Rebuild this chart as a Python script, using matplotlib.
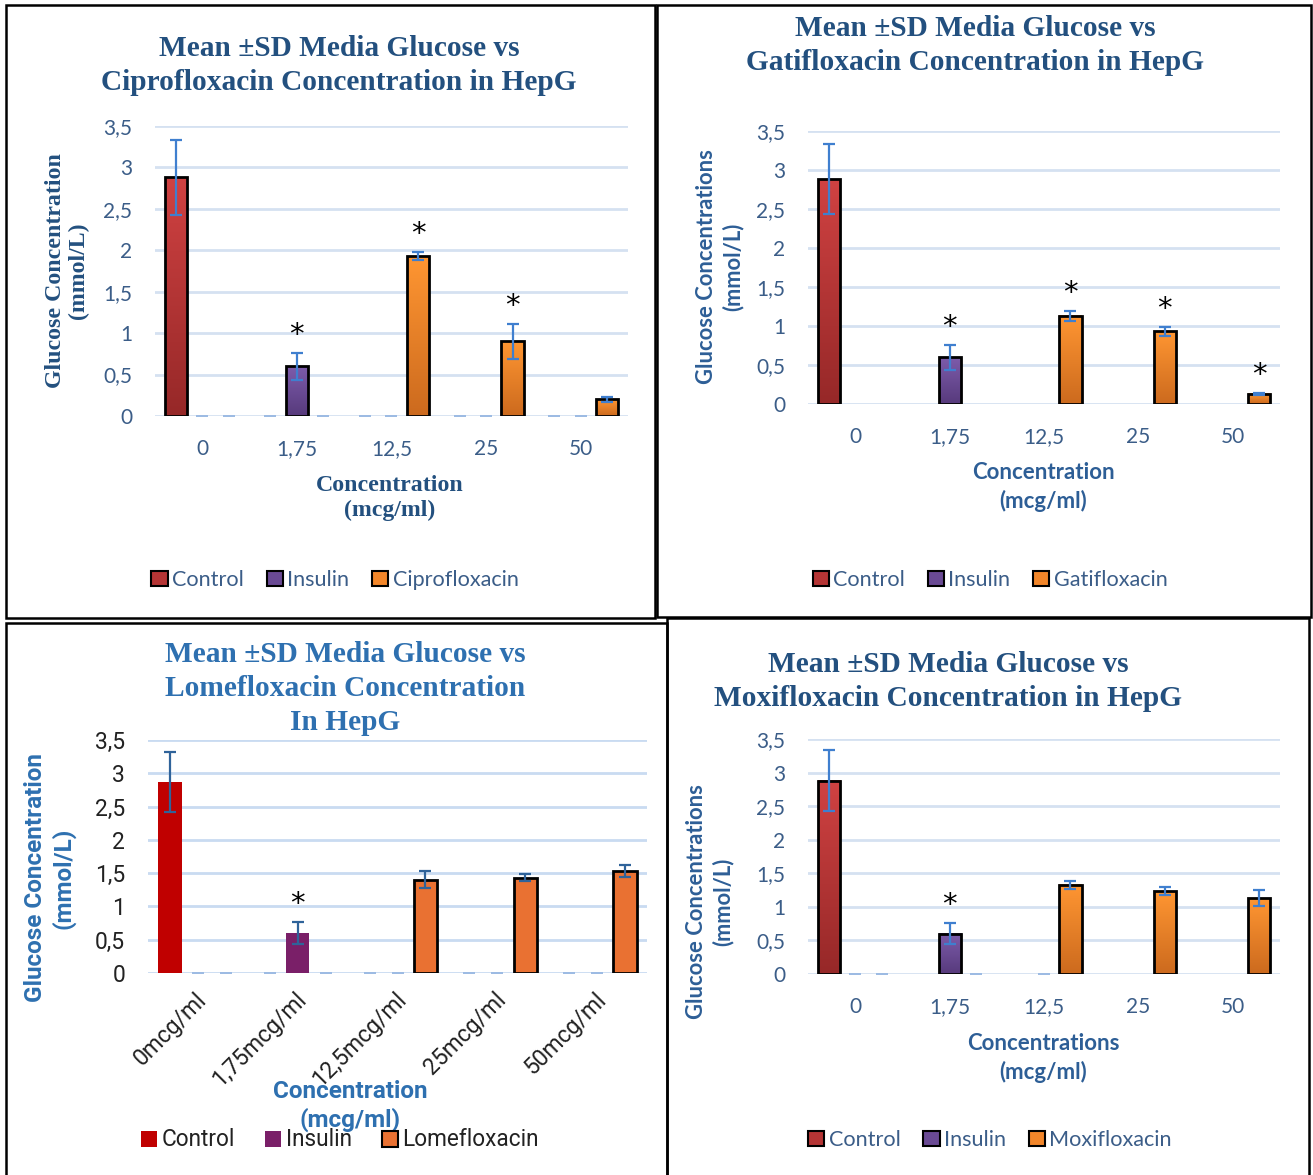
import numpy as np
import matplotlib
matplotlib.use("Agg")
import matplotlib.pyplot as plt
from matplotlib.patches import Patch, Rectangle
from matplotlib.colors import LinearSegmentedColormap

# ---------------- data ----------------
categories = ["0", "1,75", "12,5", "25", "50"]
lome_categories = ["0mcg/ml", "1,75mcg/ml", "12,5mcg/ml", "25mcg/ml", "50mcg/ml"]

# Ciprofloxacin panel
cipro_control = [2.88, 0, 0, 0, 0]
cipro_control_sd = [0.45, 0, 0, 0, 0]
cipro_insulin = [0, 0.60, 0, 0, 0]
cipro_insulin_sd = [0, 0.16, 0, 0, 0]
cipro_drug = [0, 0, 1.93, 0.90, 0.20]
cipro_drug_sd = [0, 0, 0.05, 0.21, 0.035]
cipro_stars = [(1, "Insulin"), (2, "Drug"), (3, "Drug")]

# Gatifloxacin panel
gati_control = [2.88, 0, 0, 0, 0]
gati_control_sd = [0.45, 0, 0, 0, 0]
gati_insulin = [0, 0.60, 0, 0, 0]
gati_insulin_sd = [0, 0.16, 0, 0, 0]
gati_drug = [0, 0, 1.13, 0.93, 0.13]
gati_drug_sd = [0, 0, 0.06, 0.055, 0.01]
gati_stars = [(1, "Insulin"), (2, "Drug"), (3, "Drug"), (4, "Drug")]

# Lomefloxacin panel
lome_control = [2.87, 0, 0, 0, 0]
lome_control_sd = [0.45, 0, 0, 0, 0]
lome_insulin = [0, 0.60, 0, 0, 0]
lome_insulin_sd = [0, 0.16, 0, 0, 0]
lome_drug = [0, 0, 1.40, 1.43, 1.53]
lome_drug_sd = [0, 0, 0.13, 0.055, 0.095]
lome_stars = [(1, "Insulin")]

# Moxifloxacin panel
moxi_control = [2.88, 0, 0, 0, 0]
moxi_control_sd = [0.45, 0, 0, 0, 0]
moxi_insulin = [0, 0.60, 0, 0, 0]
moxi_insulin_sd = [0, 0.155, 0, 0, 0]
moxi_drug = [0, 0, 1.33, 1.23, 1.13]
moxi_drug_sd = [0, 0, 0.06, 0.06, 0.12]
moxi_stars = [(1, "Insulin")]

y_ticks = [0, 0.5, 1, 1.5, 2, 2.5, 3, 3.5]
y_tick_labels = ["0", "0,5", "1", "1,5", "2", "2,5", "3", "3,5"]

# ---------------- styling ----------------
W, H = 1313, 1175
fig = plt.figure(figsize=(W / 100, H / 100), dpi=100)

SERIF = ["Liberation Serif", "DejaVu Serif"]
SANS = ["Lato", "DejaVu Sans"]
SANS2 = ["Roboto", "DejaVu Sans"]

TITLE_DARK = "#23507f"
TITLE_BRIGHT = "#2e70b0"
TICK_BLUE = "#3b5d88"
LABEL_BLUE = "#2d5e96"
GRID = "#d5e1f1"
ERR = "#3f7fcf"
ERR_DARK = "#2f639a"
ZERO_DASH = "#9dbbe3"
TITLE_SIZE = 21.2

grad_control = LinearSegmentedColormap.from_list("c", ["#962828", "#d04242"])
grad_insulin = LinearSegmentedColormap.from_list("i", ["#573a7c", "#7d5cab"])
grad_orange = LinearSegmentedColormap.from_list("o", ["#cc6a1e", "#ff9632"])


def fx(x):
    return x / W


def fy(y):
    return 1 - y / H


def add_axes(x0, x1, ytop, ybot):
    return fig.add_axes([fx(x0), fy(ybot), (x1 - x0) / W, (ybot - ytop) / H])


def panel_box(x0, y0, x1, y1):
    fig.patches.append(Rectangle((fx(x0), fy(y1)), (x1 - x0) / W, (y1 - y0) / H,
                                 transform=fig.transFigure, fill=False,
                                 edgecolor="black", linewidth=1.8, zorder=10))


def base_axes(ax, tick_color, tick_family, tick_size):
    ax.set_xlim(-0.5, 4.5)
    ax.set_ylim(0, 3.5)
    ax.set_yticks(y_ticks)
    ax.set_yticklabels(y_tick_labels, fontfamily=tick_family, fontsize=tick_size, color=tick_color)
    for s in ax.spines.values():
        s.set_visible(False)
    ax.tick_params(axis="both", length=0, pad=16.5)
    ax.grid(axis="y", color=GRID, linewidth=2.0, zorder=0)
    ax.set_axisbelow(True)
    ax.patch.set_alpha(0)


def draw_series(ax, pos, vals, sds, face, cmap, edge, err_color, zero_caps):
    bars = ax.bar(pos, vals, width=0.235, color=face if cmap is None else "none",
                  edgecolor=edge if edge else "none", linewidth=2.0 if edge else 0, zorder=3)
    grad = np.linspace(0, 1, 256).reshape(-1, 1)
    for b in bars:
        h = b.get_height()
        if h <= 0:
            b.set_linewidth(0)
            continue
        if cmap is not None:
            ax.imshow(grad, cmap=cmap, origin="lower", aspect="auto", zorder=2.5,
                      extent=[b.get_x(), b.get_x() + b.get_width(), 0, h])
    vals = np.asarray(vals, float)
    sds = np.asarray(sds, float)
    nz = vals > 0
    pos = np.asarray(pos, float)
    ax.errorbar(pos[nz], vals[nz], yerr=sds[nz], fmt="none", ecolor=err_color,
                elinewidth=1.6, capsize=4.2, capthick=1.6, zorder=4)
    zc = np.array(zero_caps, dtype=bool) & ~nz
    if zc.any():
        ax.errorbar(pos[zc], vals[zc], yerr=sds[zc], fmt="none", ecolor=ZERO_DASH,
                    elinewidth=1.0, capsize=4.2, capthick=1.3, zorder=2)
    return bars


def draw_panel(ax, control, control_sd, insulin, insulin_sd, drug, drug_sd, stars,
               styles, err_color, zero_masks):
    x = np.arange(len(categories))
    off = 0.28
    groups = {
        "Control": (x - off, control, control_sd),
        "Insulin": (x, insulin, insulin_sd),
        "Drug": (x + off, drug, drug_sd),
    }
    for key, (pos, v, s) in groups.items():
        face, cmap, edge = styles[key]
        draw_series(ax, pos, v, s, face, cmap, edge, err_color, zero_masks[key])
    for idx, key in stars:
        pos, v, s = groups[key]
        ax.annotate("*", (pos[idx], v[idx] + s[idx]), xytext=(0, 3), textcoords="offset points",
                    ha="center", va="bottom", fontsize=21, fontfamily="DejaVu Sans", color="black",
                    zorder=6)


def legend(labels, handles, cx, cy, color, family, size, spacing, hsize=0.75):
    lg = fig.legend(handles, labels, loc="center", bbox_to_anchor=(fx(cx), fy(cy)),
                    ncol=3, frameon=False, handlelength=hsize, handleheight=hsize,
                    handletextpad=0.2, columnspacing=spacing,
                    prop={"family": family, "size": size})
    for t in lg.get_texts():
        t.set_color(color)


all_zero = {"Control": [True] * 5, "Insulin": [True] * 5, "Drug": [True] * 5}
no_zero = {"Control": [False] * 5, "Insulin": [False] * 5, "Drug": [False] * 5}
moxi_zero = {"Control": [False] * 5,
             "Insulin": [True, False, True, False, False],
             "Drug": [True, True, False, False, False]}

office_styles = {
    "Control": ("#b53535", grad_control, "black"),
    "Insulin": ("#6a4a94", grad_insulin, "black"),
    "Drug": ("#f2862a", grad_orange, "black"),
}
flat_styles = {
    "Control": ("#c00000", None, None),
    "Insulin": ("#7a1f68", None, None),
    "Drug": ("#e97132", None, "black"),
}

# ---------------- panel boxes ----------------
panel_box(6, 5, 655, 618)
panel_box(657, 5, 1311, 617)
panel_box(6, 623, 667, 1176)
panel_box(667, 618, 1309, 1176)

# ---------------- Ciprofloxacin ----------------
ax1 = add_axes(155, 628, 126, 416)
base_axes(ax1, TICK_BLUE, SANS, 15)
ax1.set_xticks(range(5))
ax1.set_xticklabels(categories, fontfamily=SANS, fontsize=15, color=TICK_BLUE)
draw_panel(ax1, cipro_control, cipro_control_sd, cipro_insulin, cipro_insulin_sd,
           cipro_drug, cipro_drug_sd, cipro_stars, office_styles, ERR, all_zero)
fig.text(fx(339), fy(48), "Mean ±SD Media Glucose vs", ha="center", va="center",
         fontfamily=SERIF, fontweight="bold", fontsize=TITLE_SIZE, color=TITLE_DARK)
fig.text(fx(339), fy(82), "Ciprofloxacin Concentration in HepG", ha="center", va="center",
         fontfamily=SERIF, fontweight="bold", fontsize=TITLE_SIZE, color=TITLE_DARK)
fig.text(fx(67), fy(271), "Glucose Concentration\n(mmol/L)", ha="center", va="center",
         rotation=90, fontfamily=SERIF, fontweight="bold", fontsize=17.2, color=TITLE_DARK,
         linespacing=1.15)
fig.text(fx(390), fy(498), "Concentration\n(mcg/ml)", ha="center", va="center",
         fontfamily=SERIF, fontweight="bold", fontsize=17.2, color=TITLE_DARK, linespacing=1.25)
legend(["Control", "Insulin", "Ciprofloxacin"],
       [Patch(facecolor=office_styles[k][0], edgecolor="black", linewidth=1.5)
        for k in ["Control", "Insulin", "Drug"]],
       335, 580, TICK_BLUE, SANS, 15.6, 1.05)

# ---------------- Gatifloxacin ----------------
ax2 = add_axes(808, 1280, 131, 404)
base_axes(ax2, TICK_BLUE, SANS, 15)
ax2.set_xticks(range(5))
ax2.set_xticklabels(categories, fontfamily=SANS, fontsize=15, color=TICK_BLUE)
draw_panel(ax2, gati_control, gati_control_sd, gati_insulin, gati_insulin_sd,
           gati_drug, gati_drug_sd, gati_stars, office_styles, ERR, no_zero)
fig.text(fx(975), fy(28), "Mean ±SD Media Glucose vs", ha="center", va="center",
         fontfamily=SERIF, fontweight="bold", fontsize=TITLE_SIZE, color=TITLE_DARK)
fig.text(fx(975), fy(62), "Gatifloxacin Concentration in HepG", ha="center", va="center",
         fontfamily=SERIF, fontweight="bold", fontsize=TITLE_SIZE, color=TITLE_DARK)
fig.text(fx(720), fy(267), "Glucose Concentrations\n(mmol/L)", ha="center", va="center",
         rotation=90, fontfamily=SANS, fontweight="bold", fontsize=15.8, color=LABEL_BLUE,
         linespacing=1.3)
fig.text(fx(1043), fy(487), "Concentration\n(mcg/ml)", ha="center", va="center",
         fontfamily=SANS, fontweight="bold", fontsize=16, color=LABEL_BLUE, linespacing=1.35)
legend(["Control", "Insulin", "Gatifloxacin"],
       [Patch(facecolor=office_styles[k][0], edgecolor="black", linewidth=1.5)
        for k in ["Control", "Insulin", "Drug"]],
       990, 580, TICK_BLUE, SANS, 15.6, 1.05)

# ---------------- Lomefloxacin ----------------
ax3 = add_axes(148, 647, 740, 973)
base_axes(ax3, "#222222", SANS2, 16.5)
ax3.grid(axis="y", color="#c9dbf1", linewidth=2.0, zorder=0)
ax3.set_xticks(np.arange(5) - 0.03)
ax3.set_xticklabels(lome_categories, fontfamily=SANS2, fontsize=16.5, color="#222222",
                    rotation=45, ha="right", va="top", rotation_mode="anchor")
ax3.tick_params(axis="x", pad=11)
draw_panel(ax3, lome_control, lome_control_sd, lome_insulin, lome_insulin_sd,
           lome_drug, lome_drug_sd, lome_stars, flat_styles, ERR_DARK, all_zero)
for i, line in enumerate(["Mean ±SD Media Glucose vs", "Lomefloxacin Concentration", "In HepG"]):
    fig.text(fx(345), fy(655 + 33.5 * i), line, ha="center", va="center",
             fontfamily=SERIF, fontweight="bold", fontsize=TITLE_SIZE, color=TITLE_BRIGHT)
fig.text(fx(50), fy(878), "Glucose Concentration\n(mmol/L)", ha="center", va="center",
         rotation=90, fontfamily=SANS2, fontweight="bold", fontsize=17.5, color=TITLE_BRIGHT,
         linespacing=1.2)
fig.text(fx(350), fy(1106), "Concentration\n(mcg/ml)", ha="center", va="center",
         fontfamily=SANS2, fontweight="bold", fontsize=17.5, color=TITLE_BRIGHT, linespacing=1.2)
legend(["Control", "Insulin", "Lomefloxacin"],
       [Patch(facecolor=flat_styles["Control"][0], edgecolor="none"),
        Patch(facecolor=flat_styles["Insulin"][0], edgecolor="none"),
        Patch(facecolor=flat_styles["Drug"][0], edgecolor="black", linewidth=1.5)],
       340, 1140, "#222222", SANS2, 16.3, 1.35, hsize=0.7)

# ---------------- Moxifloxacin ----------------
ax4 = add_axes(808, 1280, 739, 974)
base_axes(ax4, TICK_BLUE, SANS, 15)
ax4.set_xticks(range(5))
ax4.set_xticklabels(categories, fontfamily=SANS, fontsize=15, color=TICK_BLUE)
draw_panel(ax4, moxi_control, moxi_control_sd, moxi_insulin, moxi_insulin_sd,
           moxi_drug, moxi_drug_sd, moxi_stars, office_styles, ERR, moxi_zero)
fig.text(fx(948), fy(664), "Mean ±SD Media Glucose vs", ha="center", va="center",
         fontfamily=SERIF, fontweight="bold", fontsize=TITLE_SIZE, color=TITLE_DARK)
fig.text(fx(948), fy(698), "Moxifloxacin Concentration in HepG", ha="center", va="center",
         fontfamily=SERIF, fontweight="bold", fontsize=TITLE_SIZE, color=TITLE_DARK)
fig.text(fx(710), fy(902), "Glucose Concentrations\n(mmol/L)", ha="center", va="center",
         rotation=90, fontfamily=SANS, fontweight="bold", fontsize=15.8, color=LABEL_BLUE,
         linespacing=1.3)
fig.text(fx(1043), fy(1058), "Concentrations\n(mcg/ml)", ha="center", va="center",
         fontfamily=SANS, fontweight="bold", fontsize=16, color=LABEL_BLUE, linespacing=1.35)
legend(["Control", "Insulin", "Moxifloxacin"],
       [Patch(facecolor=office_styles[k][0], edgecolor="black", linewidth=1.5)
        for k in ["Control", "Insulin", "Drug"]],
       990, 1140, TICK_BLUE, SANS, 15.6, 1.05)

fig.savefig("out.png", dpi=100, facecolor="white")
